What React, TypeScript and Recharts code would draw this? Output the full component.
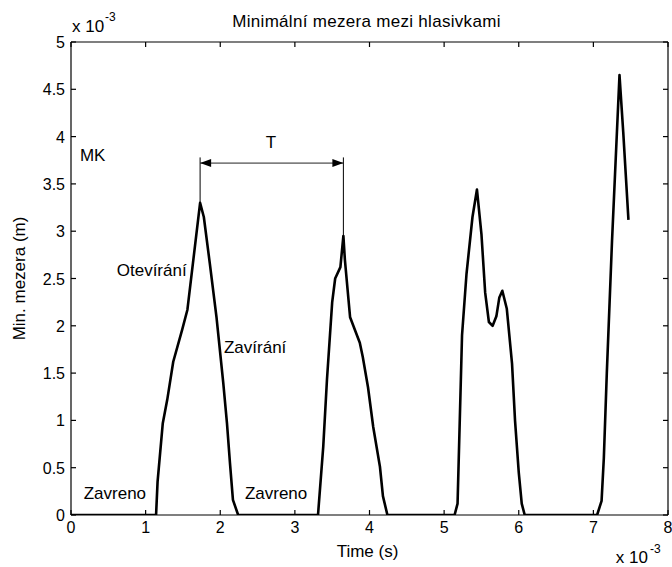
import { Line, LineChart, ReferenceDot, ReferenceLine, XAxis, YAxis } from 'recharts'

const INK = '#000000'
const FONT = '"Liberation Sans", Arial, Helvetica, sans-serif'

const W = 672
const H = 567
const MARGIN = { top: 42, right: 4, bottom: 0, left: 0 }
const X_AXIS_H = 52
const Y_AXIS_W = 71

// time axis in ms (the axis carries the x 10^-3 factor), gap in mm
const TIME_MS = [
  0, 1.14, 1.16, 1.23, 1.29, 1.37, 1.49, 1.56, 1.73, 1.78, 1.86, 1.95, 2.04, 2.09, 2.13, 2.17, 2.24,
  3.31, 3.38, 3.43, 3.5, 3.54, 3.61, 3.65, 3.67, 3.74, 3.87, 3.91, 3.98, 4.05, 4.14, 4.18, 4.24,
  5.14, 5.18, 5.24, 5.3, 5.38, 5.44, 5.5, 5.55, 5.6, 5.65, 5.7, 5.74, 5.78, 5.84, 5.91, 5.95, 6.0, 6.04, 6.08,
  7.05, 7.11, 7.14, 7.18, 7.25, 7.29, 7.35, 7.4, 7.47,
]
const GAP_MM = [
  0, 0, 0.35, 0.97, 1.22, 1.62, 1.96, 2.17, 3.3, 3.15, 2.66, 2.09, 1.4, 0.97, 0.55, 0.16, 0,
  0, 0.72, 1.43, 2.25, 2.5, 2.62, 2.95, 2.7, 2.09, 1.82, 1.67, 1.35, 0.93, 0.51, 0.2, 0,
  0, 0.12, 1.9, 2.55, 3.15, 3.44, 2.97, 2.35, 2.04, 2.0, 2.1, 2.3, 2.37, 2.18, 1.6, 1.0, 0.45, 0.12, 0,
  0, 0.15, 0.6, 1.5, 2.9, 3.6, 4.65, 4.05, 3.12,
]

const X_DOMAIN = [0, 8]
const Y_DOMAIN = [0, 5]
const X_TICKS = [0, 1, 2, 3, 4, 5, 6, 7, 8]
const Y_TICKS = [0, 0.5, 1, 1.5, 2, 2.5, 3, 3.5, 4, 4.5, 5]

// period marker between the first two opening peaks
const PERIOD_FROM = 1.73
const PERIOD_TO = 3.65
const PERIOD_LEVEL = 3.72
const PERIOD_TOP = 3.78

const NOTES = [
  { text: 'MK', t: 0.12, gap: 3.81, anchor: 'start' },
  { text: 'T', t: 2.68, gap: 3.94, anchor: 'middle' },
  { text: 'Otevírání', t: 1.55, gap: 2.59, anchor: 'end' },
  { text: 'Zavírání', t: 2.05, gap: 1.78, anchor: 'start' },
  { text: 'Zavreno', t: 0.17, gap: 0.23, anchor: 'start' },
  { text: 'Zavreno', t: 2.33, gap: 0.23, anchor: 'start' },
]

const data = TIME_MS.map((t, i) => ({ t, gap: GAP_MM[i] }))
const peakAt = (t: number) => GAP_MM[TIME_MS.indexOf(t)]

// plot box in pixels
const plotLeft = MARGIN.left + Y_AXIS_W
const plotRight = W - MARGIN.right
const plotTop = MARGIN.top
const plotBottom = H - MARGIN.bottom - X_AXIS_H

// inward ticks, 5px long, expressed in data units of each axis
const TICK_PX = 5
const tickX = (TICK_PX * (X_DOMAIN[1] - X_DOMAIN[0])) / (plotRight - plotLeft)
const tickY = (TICK_PX * (Y_DOMAIN[1] - Y_DOMAIN[0])) / (plotBottom - plotTop)

const [x0, x1] = X_DOMAIN
const [y0, y1] = Y_DOMAIN

// box edges and tick marks as segments in data coordinates
const FRAME = [
  [{ x: x0, y: y0 }, { x: x1, y: y0 }],
  [{ x: x0, y: y1 }, { x: x1, y: y1 }],
  [{ x: x0, y: y0 }, { x: x0, y: y1 }],
  [{ x: x1, y: y0 }, { x: x1, y: y1 }],
  ...X_TICKS.flatMap((v) => [
    [{ x: v, y: y0 }, { x: v, y: y0 + tickY }],
    [{ x: v, y: y1 }, { x: v, y: y1 - tickY }],
  ]),
  ...Y_TICKS.flatMap((v) => [
    [{ x: x0, y: v }, { x: x0 + tickX, y: v }],
    [{ x: x1, y: v }, { x: x1 - tickX, y: v }],
  ]),
]

const tickFont = { fontFamily: FONT, fontSize: 16, fill: INK }
const labelFont = { fontFamily: FONT, fontSize: 17, fill: INK }

const BottomTick = ({ x, y, payload }: any) => (
  <text x={x} y={y + 18} textAnchor="middle" {...tickFont}>{payload.value}</text>
)
const LeftTick = ({ x, y, payload }: any) => (
  <text x={x - 6} y={y + 6} textAnchor="end" {...tickFont}>{payload.value}</text>
)

const Captions = () => {
  const midX = (plotLeft + plotRight) / 2
  const midY = (plotTop + plotBottom) / 2
  return (
    <g>
      <text x={midX - 3} y={plotTop - 15} textAnchor="middle" {...labelFont} letterSpacing={0.3}>
        Minimální mezera mezi hlasivkami
      </text>
      <text x={plotLeft + 1} y={plotTop - 10} {...labelFont}>x 10</text>
      <text x={plotLeft + 34} y={plotTop - 21} {...labelFont} fontSize={12}>-3</text>
      <text x={25} y={midY} transform={`rotate(-90 25 ${midY})`} textAnchor="middle" {...labelFont}>
        Min. mezera (m)
      </text>
      <text x={midX - 2} y={plotBottom + 42} textAnchor="middle" {...labelFont}>
        Time (s)
      </text>
      <text x={plotRight - 20} y={plotBottom + 48} textAnchor="end" {...labelFont}>x 10</text>
      <text x={plotRight - 18} y={plotBottom + 38} {...labelFont} fontSize={12}>-3</text>
    </g>
  )
}

const DoubleArrow = ({ x1, y1, x2, y2 }: any) => (
  <g>
    <line x1={x1} y1={y1} x2={x2} y2={y2} stroke="#222" strokeWidth={1} />
    <polygon points={`${x1},${y1} ${x1 + 11},${y1 - 4} ${x1 + 11},${y1 + 4}`} fill={INK} />
    <polygon points={`${x2},${y2} ${x2 - 11},${y2 - 4} ${x2 - 11},${y2 + 4}`} fill={INK} />
  </g>
)

export default function App() {
  return (
    <div style={{ width: W, height: H, background: '#fff' }}>
      <style>{'body { margin: 0; }'}</style>
      <LineChart width={W} height={H} data={data} margin={MARGIN}>
        <XAxis
          dataKey="t"
          type="number"
          domain={X_DOMAIN}
          ticks={X_TICKS}
          interval={0}
          allowDataOverflow
          height={X_AXIS_H}
          tickSize={0}
          tickMargin={0}
          tickLine={false}
          axisLine={false}
          tick={BottomTick}
        />
        <YAxis
          type="number"
          domain={Y_DOMAIN}
          ticks={Y_TICKS}
          interval={0}
          allowDataOverflow
          width={Y_AXIS_W}
          tickSize={0}
          tickMargin={0}
          tickLine={false}
          axisLine={false}
          tick={LeftTick}
          label={{ content: Captions }}
        />
        {FRAME.map((seg, i) => (
          <ReferenceLine key={`frame${i}`} segment={seg} stroke={INK} strokeWidth={1.2} />
        ))}
        <ReferenceLine
          segment={[{ x: PERIOD_FROM, y: peakAt(PERIOD_FROM) }, { x: PERIOD_FROM, y: PERIOD_TOP }]}
          stroke={INK}
          strokeWidth={1}
        />
        <ReferenceLine
          segment={[{ x: PERIOD_TO, y: peakAt(PERIOD_TO) }, { x: PERIOD_TO, y: PERIOD_TOP }]}
          stroke={INK}
          strokeWidth={1}
        />
        <ReferenceLine
          segment={[{ x: PERIOD_FROM, y: PERIOD_LEVEL }, { x: PERIOD_TO, y: PERIOD_LEVEL }]}
          shape={DoubleArrow}
        />
        {NOTES.map((n) => (
          <ReferenceDot
            key={`${n.text}-${n.t}`}
            x={n.t}
            y={n.gap}
            r={0}
            shape={(p: any) => (
              <text x={p.cx} y={p.cy} dy="0.35em" textAnchor={n.anchor} {...labelFont}>
                {n.text}
              </text>
            )}
          />
        ))}
        <Line
          dataKey="gap"
          type="linear"
          stroke={INK}
          strokeWidth={2.6}
          strokeLinejoin="round"
          dot={false}
          activeDot={false}
          isAnimationActive={false}
        />
      </LineChart>
    </div>
  )
}
